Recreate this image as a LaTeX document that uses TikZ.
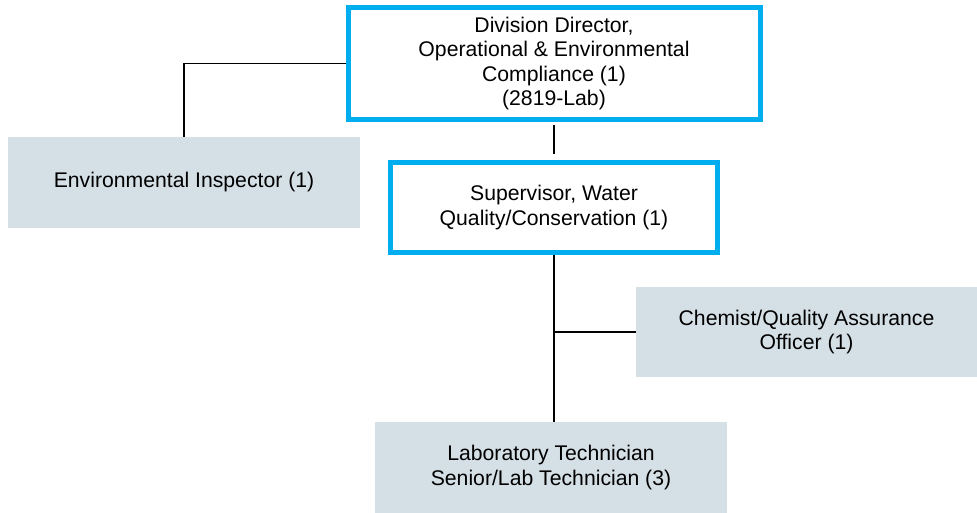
\documentclass[tikz,border=0pt]{standalone}
\usepackage{fontspec}
\setmainfont{Liberation Sans}
\usepackage{tikz}

\definecolor{headblue}{RGB}{0,174,239}
\definecolor{staffgray}{RGB}{213,223,230}

\tikzset{
    head/.style={draw=headblue, line width=3.75pt, fill=white, align=center},
    staff/.style={fill=staffgray, align=center},
    link/.style={draw=black, line width=1pt}
}

\begin{document}
\begin{tikzpicture}[x=0.75pt, y=-0.75pt, font=\fontsize{15.9}{18.4}\selectfont]
    \useasboundingbox (0,0) rectangle (977,513);
    % management boxes
    \node[head, minimum width=309pt, minimum height=84pt] (dir) at (554,63.5)
        {Division Director,\\Operational \& Environmental\\Compliance (1)\\(2819-Lab)};
    \node[head, minimum width=245.25pt, minimum height=67.5pt] (sup) at (554,207.5)
        {Supervisor, Water\\Quality/Conservation (1)};
    % staff boxes
    \node[staff, minimum width=264pt, minimum height=68.25pt] (insp) at (184,182.5)
        {Environmental Inspector (1)};
    \node[staff, minimum width=255.75pt, minimum height=67.5pt] (chem) at (806.5,332)
        {Chemist/Quality Assurance\\Officer (1)};
    \node[staff, minimum width=264pt, minimum height=68.25pt] (lab) at (551,467.5)
        {Laboratory Technician\\Senior/Lab Technician (3)};
    % reporting lines
    \draw[link, shorten <=2.25pt, shorten >=4.5pt] (dir.south) -- (sup.north);
    \draw[link] (dir.west) -| (insp.north);
    \draw[link] (sup.south) -- (sup.south |- lab.north);
    \draw[link] (sup.south |- chem.west) -- (chem.west);
\end{tikzpicture}
\end{document}
